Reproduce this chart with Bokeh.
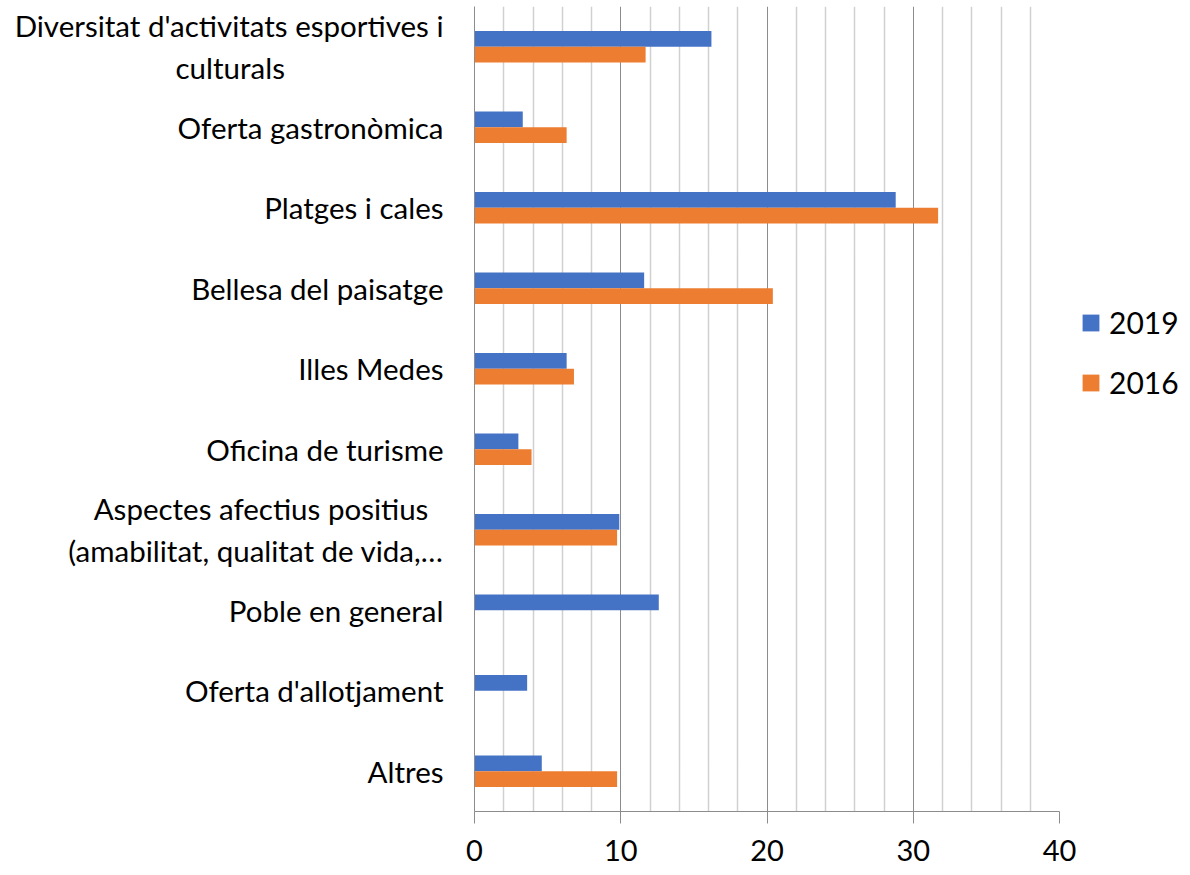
from bokeh.plotting import figure
from bokeh.models import ColumnDataSource, FactorRange, FixedTicker, Legend, LegendItem, Range1d
from bokeh.transform import dodge
from bokeh.embed import file_html
from bokeh.resources import INLINE

NB = "\u00a0"
categories = [
    "Diversitat d'activitats esportives i\nculturals" + NB * 21,
    "Oferta gastronòmica",
    "Platges i cales",
    "Bellesa del paisatge",
    "Illes Medes",
    "Oficina de turisme",
    "Aspectes afectius positius" + NB * 2 + "\n(amabilitat, qualitat de vida,…",
    "Poble en general",
    "Oferta d'allotjament",
    "Altres",
]
values_2019 = [16.2, 3.3, 28.8, 11.6, 6.3, 3.0, 9.9, 12.6, 3.6, 4.6]
values_2016 = [11.7, 6.3, 31.7, 20.4, 6.8, 3.9, 9.75, 0, 0, 9.75]
x_ticks = [0, 10, 20, 30, 40]
x_minor = [2, 4, 6, 8, 12, 14, 16, 18, 22, 24, 26, 28, 32, 34, 36, 38]

source = ColumnDataSource(dict(cat=categories, v2019=values_2019, v2016=values_2016))

FONT = "Lato"

p = figure(
    frame_width=585, frame_height=805,
    y_range=FactorRange(factors=list(reversed(categories))),
    x_range=Range1d(0, 40),
    output_backend="svg", toolbar_location=None,
    min_border_left=474, min_border_right=0, min_border_top=6, min_border_bottom=62,
)
p.outline_line_color = None

r1 = p.hbar(y=dodge("cat", 0.0975, range=p.y_range), right="v2019", left=0, height=0.195,
            source=source, fill_color="#4472C4", line_color=None)
r2 = p.hbar(y=dodge("cat", -0.0975, range=p.y_range), right="v2016", left=0, height=0.195,
            source=source, fill_color="#ED7D31", line_color=None)

# grids
p.xgrid.ticker = FixedTicker(ticks=x_ticks, minor_ticks=x_minor)
p.xgrid.grid_line_color = "#8c8c8c"
p.xgrid.grid_line_width = 1
p.xgrid.minor_grid_line_color = "#d0d0d0"
p.xgrid.minor_grid_line_width = 1.5
p.ygrid.grid_line_color = None

# x axis
p.xaxis.ticker = FixedTicker(ticks=x_ticks, minor_ticks=[])
p.xaxis.axis_line_color = "#8c8c8c"
p.xaxis.major_tick_line_color = "#8c8c8c"
p.xaxis.major_tick_out = 12
p.xaxis.major_tick_in = 0
p.xaxis.minor_tick_line_color = None
p.xaxis.major_label_text_font = FONT
p.xaxis.major_label_text_font_size = "29px"
p.xaxis.major_label_text_color = "black"
p.xaxis.major_label_standoff = 16

# y axis
p.yaxis.axis_line_color = "#8c8c8c"
p.yaxis.major_tick_line_color = None
p.yaxis.major_tick_out = 0
p.yaxis.minor_tick_line_color = None
p.yaxis.major_label_text_font = FONT
p.yaxis.major_label_text_font_size = "29.5px"
p.yaxis.major_label_text_color = "black"
p.yaxis.major_label_standoff = 31

legend = Legend(items=[LegendItem(label="2019", renderers=[r1]),
                       LegendItem(label="2016", renderers=[r2])],
                location=(21, 411))
legend.label_text_font = FONT
legend.label_text_font_size = "30px"
legend.label_text_color = "black"
legend.glyph_width = 21
legend.glyph_height = 21
legend.label_standoff = 8
legend.spacing = 24
legend.padding = 0
legend.margin = 0
legend.border_line_color = None
legend.background_fill_color = None
p.add_layout(legend, "right")

open("out.html", "w").write(file_html(p, INLINE))
